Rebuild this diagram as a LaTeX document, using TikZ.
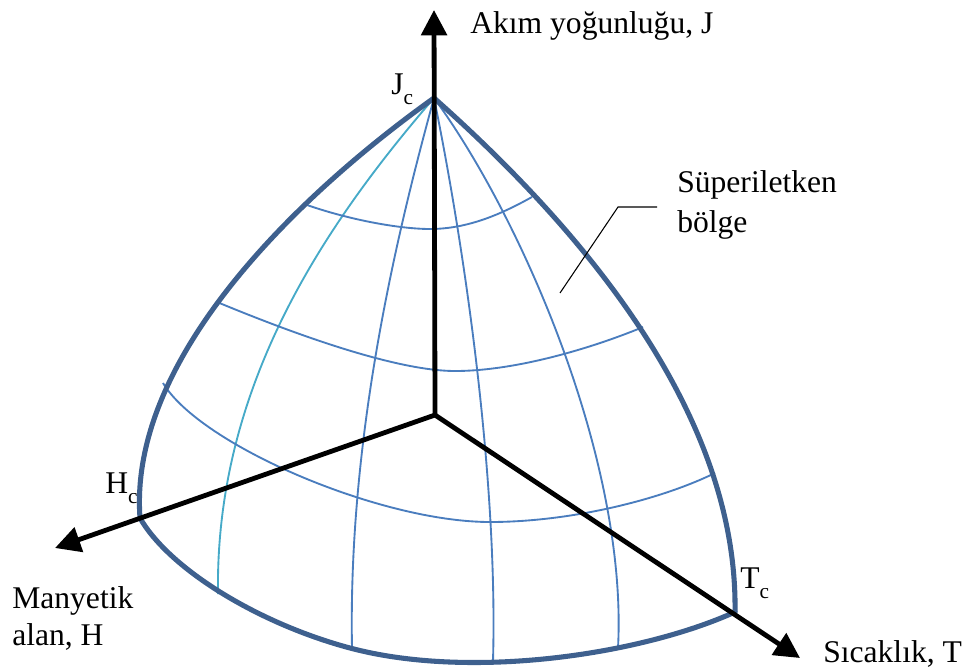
\documentclass[tikz,border=0pt]{standalone}
\usepackage{fontspec}
\setmainfont{Liberation Serif}
\usetikzlibrary{arrows.meta}
\definecolor{outl}{RGB}{62,96,142}
\definecolor{grid}{RGB}{74,125,190}
\definecolor{cyanl}{RGB}{70,170,200}
\newcommand{\subcee}{\raisebox{-7.5pt}{\fontsize{16}{16}\selectfont c}}
\tikzset{
  axisline/.style={line width=3.6pt, draw=black, -{Triangle[length=19pt,width=19pt]}},
  outline/.style={line width=3.8pt, draw=outl, line join=round, line cap=round},
  gridline/.style={line width=1.4pt, draw=grid},
  cyanline/.style={line width=1.4pt, draw=cyanl},
  lbl/.style={font=\fontsize{23.7}{28}\selectfont, inner sep=0pt},
}
\begin{document}
\begin{tikzpicture}[x=0.75pt,y=-0.75pt]
\useasboundingbox (0,0) rectangle (966,671);
% key points
\coordinate (O) at (435,415);
\coordinate (Jc) at (434,98);
\coordinate (Hc) at (140,518);
\coordinate (Tc) at (735,612);
\coordinate (Jtip) at (434,10);
\coordinate (Htip) at (55,548);
\coordinate (Ttip) at (800,658);
\coordinate (Bm) at (350,648);
% meridians
\draw[cyanline] (Jc) .. controls (320,230) and (215,390) .. (218,594);
\draw[gridline] (Jc) .. controls (395,240) and (348,440) .. (352,648);
\draw[gridline] (Jc) .. controls (465,250) and (498,480) .. (493,661);
\draw[gridline] (Jc) .. controls (520,215) and (628,460) .. (618,648);
% parallels
\draw[gridline] (307,205) .. controls (350,220) and (400,229) .. (430,229)
                          .. controls (470,229) and (505,212) .. (532,197);
\draw[gridline] (217,302) .. controls (275,326) and (390,371) .. (455,371)
                          .. controls (520,371) and (600,345) .. (643,327);
\draw[gridline] (163,383) .. controls (200,445) and (380,522) .. (490,522)
                          .. controls (570,522) and (660,500) .. (715,473);
% outline
\draw[outline] (Jc) .. controls (305,190) and (128,355) .. (Hc);
\draw[outline] (Hc) .. controls (170,570) and (260,624) .. (Bm)
                    .. controls (470,680) and (640,655) .. (Tc);
\draw[outline] (Tc) .. controls (738,415) and (585,232) .. (Jc);
% axes
\draw[axisline] (O) -- (Jtip);
\draw[axisline] (O) -- (Htip);
\draw[axisline] (O) -- (Ttip);
% leader
\coordinate (La) at (560,293);
\coordinate (Lb) at (618,207);
\coordinate (Lc) at (657,207);
\draw[line width=0.8pt] (La) -- (Lb) -- (Lc);
% labels
\node[lbl, anchor=base west] (tJ) at (470,33) {Akım yoğunluğu, J};
\node[lbl, anchor=base west] (tJc) at (391,94) {J\subcee};
\node[lbl, anchor=base west] (tHc) at (105,493) {H\subcee};
\node[lbl, anchor=base west] (tTc) at (740,588) {T\subcee};
\node[lbl, anchor=base west] (tH1) at (12,608) {Manyetik};
\node[lbl, anchor=base west] (tH2) at (12,645) {alan, H};
\node[lbl, anchor=base west] (tT) at (823,662) {Sıcaklık, T};
\node[lbl, anchor=base west] (tS1) at (677,192) {Süperiletken};
\node[lbl, anchor=base west] (tS2) at (677,232) {bölge};
\end{tikzpicture}
\end{document}
